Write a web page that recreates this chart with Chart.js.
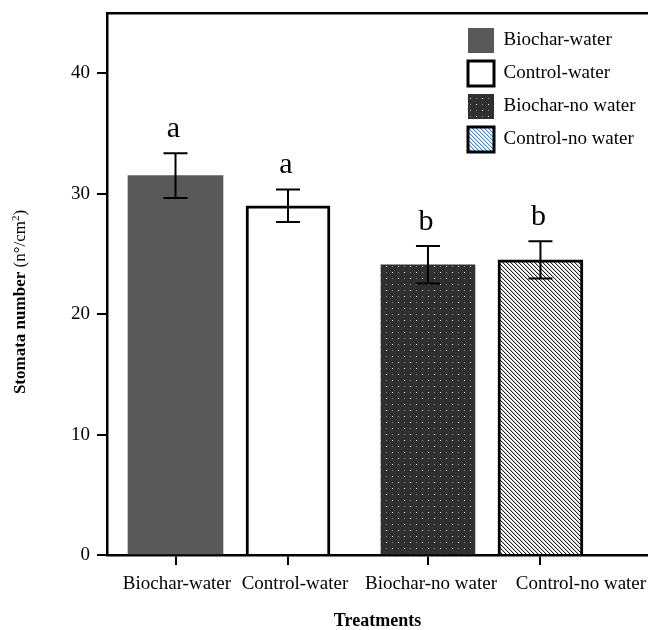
<!DOCTYPE html>
<html>
<head>
<meta charset="utf-8">
<script src="https://cdn.jsdelivr.net/npm/chart.js@4.4.1/dist/chart.umd.min.js"></script>
<style>
  html, body { margin: 0; padding: 0; background: #fff; }
  canvas { display: block; }
</style>
</head>
<body>
<canvas id="c" width="648" height="630"></canvas>
<script>
// Stomata density per treatment (mean ± SE) with significance letters
const treatments = ['Biochar-water', 'Control-water', 'Biochar-no water', 'Control-no water'];
const irrigation = ['water', 'water', 'no water', 'no water'];
const stomata    = [31.5, 29.0, 24.1, 24.5];
const stomataSE  = [1.85, 1.35, 1.55, 1.55];
const letters    = ['a', 'a', 'b', 'b'];
const yTicks     = [0, 10, 20, 30, 40];

const SERIF = "'Liberation Serif', 'Times New Roman', serif";
Chart.defaults.font.family = SERIF;
Chart.defaults.color = '#000';

// bars sit one unit apart, with extra room between the irrigation groups
const GROUP_GAP = 0.244;
const groups = [...new Set(irrigation)];
const slot = treatments.map((_, i) => i + groups.indexOf(irrigation[i]) * GROUP_GAP);
const labelShift = [0.013, 0.062, 0.027, 0.36];
const X_MIN = -0.609, X_MAX = 4.2;

const canvas = document.getElementById('c');
const ctxMain = canvas.getContext('2d');

function tilePattern(w, h, paint) {
  const t = document.createElement('canvas');
  t.width = w; t.height = h;
  paint(t.getContext('2d'));
  return ctxMain.createPattern(t, 'repeat');
}

const dots = tilePattern(12, 12, g => {
  g.fillStyle = '#303030'; g.fillRect(0, 0, 12, 12);
  g.fillStyle = '#e6e6e6'; g.fillRect(2, 2, 1, 1); g.fillRect(8, 8, 1, 1);
  g.fillStyle = '#8c8c8c'; g.fillRect(8, 2, 1, 1); g.fillRect(2, 8, 1, 1);
});

function hatch(dark, light) {
  return tilePattern(4, 4, g => {
    g.fillStyle = '#fff'; g.fillRect(0, 0, 4, 4);
    for (let i = 0; i < 4; i++) {
      g.fillStyle = dark;  g.fillRect(i, i, 1, 1);
      g.fillStyle = light; g.fillRect((i + 1) % 4, i, 1, 1);
    }
  });
}
const grayHatch = hatch('#1e1e1e', '#c8c8c8');
const blueHatch = hatch('#4f86c9', '#c2d6ef');

const fills       = ['#595959', '#ffffff', dots, grayHatch];
const legendFills = ['#595959', '#ffffff', dots, blueHatch];
const borders     = [0, 3, 0, 3];
const thickness   = [95, 84, 94, 85];

const datasets = treatments.map((t, i) => ({
  label: t,
  data: [{ x: slot[i], y: stomata[i] }],
  backgroundColor: fills[i],
  borderColor: '#000',
  borderWidth: borders[i],
  borderSkipped: 'bottom',
  barThickness: thickness[i],
  grouped: false
}));

// error bars and significance letters
const annotate = {
  id: 'annotate',
  afterDatasetsDraw(chart) {
    const { ctx, scales: { x, y } } = chart;
    ctx.save();
    ctx.strokeStyle = '#000';
    ctx.lineWidth = 2;
    ctx.fillStyle = '#000';
    ctx.font = '30px ' + SERIF;
    ctx.textAlign = 'center';
    ctx.textBaseline = 'alphabetic';
    stomata.forEach((v, i) => {
      const px = x.getPixelForValue(slot[i]);
      const hi = y.getPixelForValue(v + stomataSE[i]);
      const lo = y.getPixelForValue(v - stomataSE[i]);
      ctx.beginPath();
      ctx.moveTo(px, hi); ctx.lineTo(px, lo);
      ctx.moveTo(px - 12, hi); ctx.lineTo(px + 12, hi);
      ctx.moveTo(px - 12, lo); ctx.lineTo(px + 12, lo);
      ctx.stroke();
      ctx.fillText(letters[i], px - 2, hi - 16);
    });
    ctx.restore();
  }
};

// y-axis title with a bold name and a plain unit
const yTitle = {
  id: 'yTitle',
  afterDraw(chart) {
    const ctx = chart.ctx;
    const parts = [
      { text: 'Stomata number', font: 'bold 17px ' + SERIF, dy: 0 },
      { text: ' (n°/cm', font: '17px ' + SERIF, dy: 0 },
      { text: '2', font: '11px ' + SERIF, dy: -5 },
      { text: ')', font: '17px ' + SERIF, dy: 0 }
    ];
    ctx.save();
    let total = 0;
    parts.forEach(p => { ctx.font = p.font; p.w = ctx.measureText(p.text).width; total += p.w; });
    ctx.translate(21, 302);
    ctx.rotate(-Math.PI / 2);
    ctx.textAlign = 'left';
    ctx.textBaseline = 'middle';
    ctx.fillStyle = '#000';
    let cx = -total / 2;
    parts.forEach(p => { ctx.font = p.font; ctx.fillText(p.text, cx, p.dy); cx += p.w; });
    ctx.restore();
  }
};

// put the legend in the upper right corner of the plot
const legendPlace = {
  id: 'legendPlace',
  afterLayout(chart) {
    const lg = chart.legend;
    if (!lg) return;
    const w = lg.width, h = lg.height;
    lg.left = 460; lg.top = 20;
    lg.right = lg.left + w; lg.bottom = lg.top + h;
  }
};

new Chart(canvas, {
  type: 'bar',
  data: { datasets },
  plugins: [annotate, yTitle, legendPlace],
  options: {
    responsive: false,
    animation: false,
    events: [],
    layout: { padding: { left: 0, top: 13, right: 0, bottom: 0 } },
    plugins: {
      tooltip: { enabled: false },
      legend: {
        position: 'chartArea',
        align: 'start',
        labels: {
          boxWidth: 26,
          boxHeight: 25,
          padding: 8,
          font: { size: 19 },
          color: '#000',
          generateLabels: () => treatments.map((t, i) => ({
            text: t,
            fillStyle: legendFills[i],
            strokeStyle: '#000',
            lineWidth: borders[i],
            hidden: false,
            datasetIndex: i,
            fontColor: '#000'
          }))
        }
      }
    },
    scales: {
      x: {
        type: 'linear',
        position: 'bottom',
        min: X_MIN, max: X_MAX,
        offset: false,
        afterBuildTicks: s => { s.ticks = slot.map(v => ({ value: v })); },
        afterFit: s => { s.height = 10; s.paddingLeft = 0; s.paddingRight = 0; },
        grid: { display: true, offset: false, drawOnChartArea: false, drawTicks: true, tickLength: 10, color: '#000', lineWidth: 2 },
        border: { display: true, color: '#000', width: 2.5 },
        ticks: { display: false }
      },
      xLabels: {
        type: 'linear',
        position: 'bottom',
        min: X_MIN, max: X_MAX,
        offset: false,
        afterBuildTicks: s => { s.ticks = slot.map((v, i) => ({ value: v + labelShift[i] })); },
        afterFit: s => { s.height = 65; s.paddingLeft = 0; s.paddingRight = 0; },
        grid: { display: false, offset: false, drawTicks: false },
        border: { display: false },
        ticks: {
          padding: 8,
          autoSkip: false,
          maxRotation: 0,
          font: { size: 19 },
          color: '#000',
          callback: (v, i) => treatments[i]
        },
        title: {
          display: true,
          text: 'Treatments',
          color: '#000',
          font: { size: 18, weight: 'bold', lineHeight: 1 },
          padding: { top: 16, bottom: 0 }
        }
      },
      xTop: {
        type: 'linear',
        position: 'top',
        min: X_MIN, max: X_MAX,
        offset: false,
        afterFit: s => { s.height = 0; s.paddingLeft = 0; s.paddingRight = 0; },
        grid: { display: false, offset: false, drawTicks: false },
        ticks: { display: false },
        border: { display: true, color: '#000', width: 2.5 }
      },
      y: {
        min: 0, max: 45,
        afterBuildTicks: s => { s.ticks = yTicks.map(v => ({ value: v })); },
        afterFit: s => { s.width = 107; s.paddingTop = 0; s.paddingBottom = 0; },
        grid: { display: true, drawOnChartArea: false, drawTicks: true, tickLength: 10, color: '#000', lineWidth: 2 },
        border: { display: true, color: '#000', width: 2.5 },
        ticks: { padding: 7, font: { size: 19 }, color: '#000' }
      }
    }
  }
});
</script>
</body>
</html>
